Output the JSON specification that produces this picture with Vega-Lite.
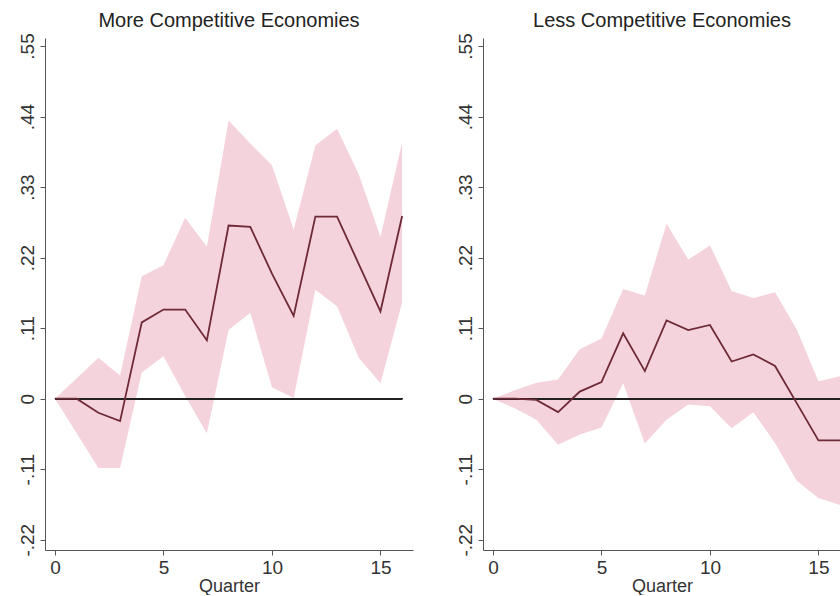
{
  "$schema": "https://vega.github.io/schema/vega-lite/v6.json",
  "padding": {"left": 18, "top": 10, "right": 0, "bottom": 0},
  "background": "#ffffff",
  "spacing": 43,
  "config": {
    "view": {"stroke": null},
    "font": "Liberation Sans",
    "title": {"fontSize": 20, "fontWeight": "normal", "color": "#222", "offset": 2, "font": "Liberation Sans"},
    "axis": {
      "grid": false,
      "domainColor": "#555",
      "tickColor": "#555",
      "tickSize": 5,
      "labelColor": "#333",
      "labelFontSize": 19,
      "titleFontSize": 18,
      "titleFontWeight": "normal",
      "titleColor": "#333",
      "labelFont": "Liberation Sans",
      "titleFont": "Liberation Sans"
    }
  },
  "datasets": {
    "more": [
      {"q": 0, "est": 0, "lo": 0, "hi": 0},
      {"q": 1, "est": 0, "lo": -0.054, "hi": 0.032},
      {"q": 2, "est": -0.022, "lo": -0.108, "hi": 0.064},
      {"q": 3, "est": -0.035, "lo": -0.108, "hi": 0.036},
      {"q": 4, "est": 0.119, "lo": 0.041, "hi": 0.191},
      {"q": 5, "est": 0.139, "lo": 0.066, "hi": 0.208},
      {"q": 6, "est": 0.139, "lo": 0.004, "hi": 0.282},
      {"q": 7, "est": 0.091, "lo": -0.054, "hi": 0.237},
      {"q": 8, "est": 0.27, "lo": 0.107, "hi": 0.434},
      {"q": 9, "est": 0.268, "lo": 0.134, "hi": 0.398},
      {"q": 10, "est": 0.195, "lo": 0.018, "hi": 0.364},
      {"q": 11, "est": 0.129, "lo": 0.001, "hi": 0.264},
      {"q": 12, "est": 0.284, "lo": 0.17, "hi": 0.395},
      {"q": 13, "est": 0.284, "lo": 0.144, "hi": 0.421},
      {"q": 14, "est": 0.21, "lo": 0.064, "hi": 0.35},
      {"q": 15, "est": 0.136, "lo": 0.024, "hi": 0.252},
      {"q": 16, "est": 0.285, "lo": 0.15, "hi": 0.4}
    ],
    "less": [
      {"q": 0, "est": 0, "lo": 0, "hi": 0},
      {"q": 1, "est": 0, "lo": -0.015, "hi": 0.013},
      {"q": 2, "est": -0.002, "lo": -0.033, "hi": 0.025},
      {"q": 3, "est": -0.021, "lo": -0.072, "hi": 0.03},
      {"q": 4, "est": 0.011, "lo": -0.056, "hi": 0.077},
      {"q": 5, "est": 0.026, "lo": -0.045, "hi": 0.094},
      {"q": 6, "est": 0.102, "lo": 0.024, "hi": 0.171},
      {"q": 7, "est": 0.043, "lo": -0.07, "hi": 0.161},
      {"q": 8, "est": 0.122, "lo": -0.033, "hi": 0.273},
      {"q": 9, "est": 0.107, "lo": -0.009, "hi": 0.217},
      {"q": 10, "est": 0.115, "lo": -0.012, "hi": 0.239},
      {"q": 11, "est": 0.058, "lo": -0.046, "hi": 0.168},
      {"q": 12, "est": 0.069, "lo": -0.021, "hi": 0.157},
      {"q": 13, "est": 0.051, "lo": -0.069, "hi": 0.166},
      {"q": 14, "est": -0.007, "lo": -0.128, "hi": 0.108},
      {"q": 15, "est": -0.065, "lo": -0.155, "hi": 0.027},
      {"q": 16, "est": -0.065, "lo": -0.166, "hi": 0.035}
    ]
  },
  "hconcat": [
    {
      "title": "More Competitive Economies",
      "width": 368,
      "height": 512,
      "data": {"name": "more"},
      "layer": [
        {
          "mark": {"type": "area", "color": "#f4d3dc", "opacity": 1},
          "encoding": {
            "x": {"field": "q", "type": "quantitative", "scale": {"domain": [-0.46, 16.5], "nice": false, "zero": false},
              "axis": {"title": "Quarter", "values": [0, 5, 10, 15], "labelFlush": false, "labelPadding": 3, "titlePadding": 0}},
            "y": {"field": "lo", "type": "quantitative", "scale": {"domain": [-0.236, 0.5625], "nice": false},
              "axis": {"title": null, "values": [-0.22, -0.11, 0, 0.11, 0.22, 0.33, 0.44, 0.55], "labelAngle": -90, "labelFlush": false, "labelPadding": 3,
                "labelExpr": "datum.value == 0 ? '0' : (datum.value < 0 ? '-' : '') + slice(format(abs(datum.value), '.2f'), 1)"}},
            "y2": {"field": "hi"}
          }
        },
        {
          "mark": {"type": "rule", "color": "#222", "strokeWidth": 1.2},
          "encoding": {"x": {"datum": 0}, "x2": {"datum": 16}, "y": {"datum": 0}}
        },
        {
          "mark": {"type": "line", "color": "#6e2a36", "strokeWidth": 1.8},
          "encoding": {"x": {"field": "q", "type": "quantitative"}, "y": {"field": "est", "type": "quantitative"}}
        }
      ]
    },
    {
      "title": "Less Competitive Economies",
      "width": 358,
      "height": 512,
      "data": {"name": "less"},
      "layer": [
        {
          "mark": {"type": "area", "color": "#f4d3dc", "opacity": 1, "clip": true},
          "encoding": {
            "x": {"field": "q", "type": "quantitative", "scale": {"domain": [-0.46, 16.04], "nice": false, "zero": false},
              "axis": {"title": "Quarter", "values": [0, 5, 10, 15], "labelFlush": false, "labelPadding": 3, "titlePadding": 0}},
            "y": {"field": "lo", "type": "quantitative", "scale": {"domain": [-0.236, 0.5625], "nice": false},
              "axis": {"title": null, "values": [-0.22, -0.11, 0, 0.11, 0.22, 0.33, 0.44, 0.55], "labelAngle": -90, "labelFlush": false, "labelPadding": 3,
                "labelExpr": "datum.value == 0 ? '0' : (datum.value < 0 ? '-' : '') + slice(format(abs(datum.value), '.2f'), 1)"}},
            "y2": {"field": "hi"}
          }
        },
        {
          "mark": {"type": "rule", "color": "#222", "strokeWidth": 1.2, "clip": true},
          "encoding": {"x": {"datum": 0}, "x2": {"datum": 16}, "y": {"datum": 0}}
        },
        {
          "mark": {"type": "line", "color": "#6e2a36", "strokeWidth": 1.8, "clip": true},
          "encoding": {"x": {"field": "q", "type": "quantitative"}, "y": {"field": "est", "type": "quantitative"}}
        }
      ]
    }
  ]
}
